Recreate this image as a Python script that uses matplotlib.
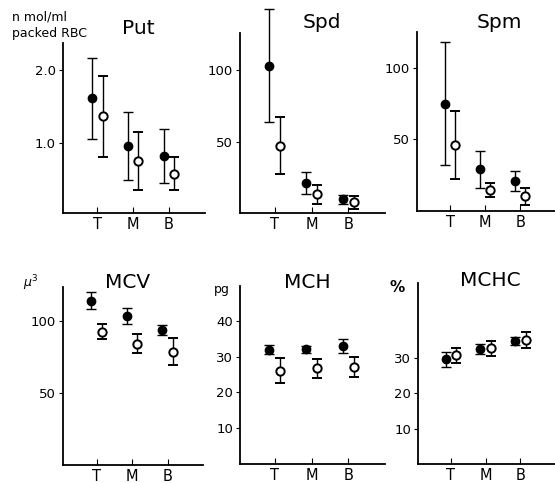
import matplotlib.pyplot as plt
import numpy as np

plt.rcParams['font.family'] = ['DejaVu Sans']

groups = ['T', 'M', 'B']
titles = ['Put', 'Spd', 'Spm', 'MCV', 'MCH', 'MCHC']

# filled circles (mean, sd)
put_f = [1.61, 0.95, 0.81]
put_f_sd = [0.56, 0.47, 0.37]
spd_f = [103, 21, 9.5]
spd_f_sd = [39.5, 7.5, 3]
spm_f = [75, 29, 21]
spm_f_sd = [43, 13, 7.2]
mcv_f = [114.5, 104, 94.3]
mcv_f_sd = [5.8, 5.5, 3.5]
mch_f = [31.9, 32, 33]
mch_f_sd = [1.2, 1.0, 2.0]
mchc_f = [29.5, 32.4, 34.7]
mchc_f_sd = [2.1, 1.3, 1.2]

# open circles (mean, sd)
put_o = [1.36, 0.74, 0.57]
put_o_sd = [0.56, 0.40, 0.23]
spd_o = [47, 13, 7.5]
spd_o_sd = [20, 6.5, 4.5]
spm_o = [46, 14.7, 10.4]
spm_o_sd = [24, 5.2, 5.9]
mcv_o = [93, 84.5, 79]
mcv_o_sd = [5.5, 6.8, 9.2]
mch_o = [26.1, 26.7, 27.1]
mch_o_sd = [3.5, 2.7, 2.8]
mchc_o = [30.6, 32.6, 35.0]
mchc_o_sd = [2.2, 2.1, 2.2]

yticks = [[1.0, 2.0], [50, 100], [50, 100], [50, 100], [10, 20, 30, 40], [10, 20, 30]]
yticklabels = [['1.0', '2.0'], ['50', '100'], ['50', '100'], ['50', '100'],
               ['10', '20', '30', '40'], ['10', '20', '30']]
ylims = [(0.03, 2.37), (0, 126), (0, 125), (0, 124), (0, 49.7), (0, 51)]

# axes boxes in pixels: left, right, top, bottom
W, H = 555, 483
boxes = [(63, 205, 43, 213), (240, 385, 33, 213), (417, 555, 32, 211),
         (63, 203, 287, 465), (240, 385, 286, 464), (418, 555, 283, 464)]
title_pos = [(138, 28), (322, 23), (499, 23), (128, 283), (307, 282), (490, 280)]

filled = [(put_f, put_f_sd), (spd_f, spd_f_sd), (spm_f, spm_f_sd),
          (mcv_f, mcv_f_sd), (mch_f, mch_f_sd), (mchc_f, mchc_f_sd)]
opened = [(put_o, put_o_sd), (spd_o, spd_o_sd), (spm_o, spm_o_sd),
          (mcv_o, mcv_o_sd), (mch_o, mch_o_sd), (mchc_o, mchc_o_sd)]

fig = plt.figure(figsize=(5.55, 4.83), dpi=100)
x = np.arange(1, 4)
off = 0.15


def unclip(container):
    for art in container.lines[1] + container.lines[2]:
        art.set_clip_on(False)
    container.lines[0].set_clip_on(False)


for i in range(6):
    l, r, t, b = boxes[i]
    ax = fig.add_axes([l / W, (H - b) / H, (r - l) / W, (b - t) / H])
    f, fsd = filled[i]
    o, osd = opened[i]
    eb1 = ax.errorbar(x - off, f, yerr=fsd, fmt='o', color='black', ms=6,
                      capsize=3.5, elinewidth=1.0, capthick=1.0)
    eb2 = ax.errorbar(x + off, o, yerr=osd, fmt='o', color='black', mfc='white',
                      mec='black', mew=1.4, ms=6, capsize=3.5, elinewidth=1.0, capthick=1.0)
    unclip(eb1)
    unclip(eb2)
    ax.set_xlim(0.05, 4.0)
    ax.set_ylim(*ylims[i])
    ax.set_xticks(x)
    ax.set_xticklabels(groups)
    ax.set_yticks(yticks[i])
    ax.set_yticklabels(yticklabels[i])
    ax.spines['top'].set_visible(False)
    ax.spines['right'].set_visible(False)
    ax.spines['left'].set_linewidth(1.3)
    ax.spines['bottom'].set_linewidth(1.3)
    ax.tick_params(axis='x', direction='in', length=4, labelsize=10.5, pad=3)
    ax.tick_params(axis='y', direction='out', length=3, labelsize=9.5, pad=2)
    ax.patch.set_alpha(0)
    tx, ty = title_pos[i]
    fig.text(tx / W, 1 - ty / H, titles[i], fontsize=14.5, ha='center', va='center')

fig.text(12 / W, 1 - 17 / H, 'n mol/ml', fontsize=9, ha='left', va='center')
fig.text(12 / W, 1 - 34 / H, 'packed RBC', fontsize=9, ha='left', va='center')
fig.text(23 / W, 1 - 283 / H, r'$\mu^3$', fontsize=9, ha='left', va='center')
fig.text(214 / W, 1 - 290 / H, 'pg', fontsize=9, ha='left', va='center')
fig.text(390 / W, 1 - 288 / H, '%', fontsize=11, ha='left', va='center', weight='bold')

fig.savefig('out.png', dpi=100, facecolor='white')
